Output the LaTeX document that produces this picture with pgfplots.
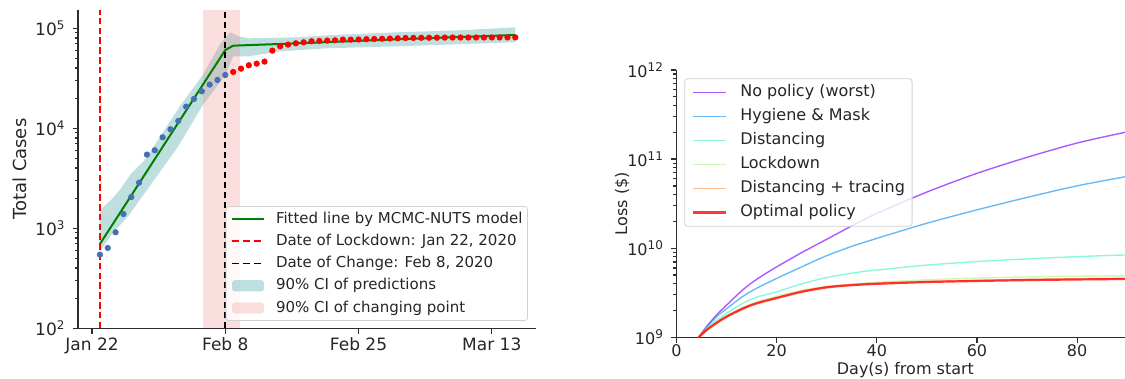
\documentclass[border=0pt]{standalone}
\usepackage{fontspec}
\setmainfont{DejaVu Sans}
\usepackage{pgfplots}
\pgfplotsset{compat=1.18}
\definecolor{txt}{RGB}{38,38,38}
\definecolor{spine}{RGB}{45,45,45}
\definecolor{dotblue}{RGB}{70,112,180}
\definecolor{fitgreen}{RGB}{0,128,0}
\definecolor{bandteal}{RGB}{0,128,128}
\definecolor{cpink}{RGB}{240,128,128}
\definecolor{lockred}{RGB}{255,0,0}
\definecolor{rbA}{rgb}{0.5,0,1}
\definecolor{rbB}{rgb}{0.1,0.588,0.951}
\definecolor{rbC}{rgb}{0.3,0.951,0.809}
\definecolor{rbD}{rgb}{0.7,0.951,0.588}
\definecolor{rbE}{rgb}{1,0.588,0.309}
\definecolor{rbF}{rgb}{1,0,0}
\newcommand{\tenp}[1]{10\textsuperscript{#1}}
\pgfplotsset{
  legGreen/.style={legend image code/.code={\draw[draw=fitgreen, line width=1pt] (0pt,0pt) -- (16pt,0pt);}},
  legRedDash/.style={legend image code/.code={\draw[draw=lockred, line width=0.9pt] (0pt,0pt) -- (3.7pt,0pt) (5.5pt,0pt) -- (9.2pt,0pt) (11pt,0pt) -- (14.7pt,0pt);}},
  legBlackDash/.style={legend image code/.code={\draw[draw=black, line width=0.9pt] (0pt,0pt) -- (3.7pt,0pt) (5.5pt,0pt) -- (9.2pt,0pt) (11pt,0pt) -- (14.7pt,0pt);}},
  legTeal/.style={legend image code/.code={\fill[fill=bandteal, fill opacity=0.25, draw=none] (0pt,-2.85pt) rectangle (16pt,2.85pt);}},
  legPink/.style={legend image code/.code={\fill[fill=cpink, fill opacity=0.25, draw=none] (0pt,-2.85pt) rectangle (16pt,2.85pt);}},
  spinestyle/.style={
    axis x line=bottom, axis y line=left,
    axis line style={-, spine, line width=0.6pt},
    tick align=outside, major tick length=2.7pt, minor tick length=1.5pt,
    tick style={spine, line width=0.6pt},
    minor xtick={},
  },
}
\begin{document}
\begin{tikzpicture}
\useasboundingbox (0,0) rectangle (562.5pt,189.5pt);
% ---------------- left panel ----------------
\begin{axis}[
  spinestyle,
  at={(38.95pt,25.35pt)}, anchor=south west,
  scale only axis, width=228.9pt, height=159.15pt,
  xmin=-1.81, xmax=56.6, ymode=log, ymin=100, ymax=152400,
  xtick={0,17,34,51}, xticklabels={Jan 22,Feb 8,Feb 25,Mar 13},
  ytick={100,1000,10000,100000}, yticklabels={\tenp{2},\tenp{3},\tenp{4},\tenp{5}},
  minor ytick={200,300,400,500,600,700,800,900,2000,3000,4000,5000,6000,7000,8000,9000,20000,30000,40000,50000,60000,70000,80000,90000},
  tick label style={font=\fontsize{8.5}{10}\selectfont, text=txt},
  xticklabel style={yshift=1.5pt},
  ylabel={Total Cases},
  ylabel style={at={(axis description cs:-0.127,0.5)}, anchor=center, font=\fontsize{9}{11}\selectfont, text=txt},
  axis on top,
  legend cell align=left,
  legend style={at={(1,0)}, anchor=south east, xshift=-3.85pt, yshift=3.65pt,
    font=\color{txt}\fontsize{7.5}{9}\selectfont,
    fill=white, fill opacity=0.8, text opacity=1, draw=black!18, rounded corners=1.5pt,
    inner xsep=2.5pt, inner ysep=2.55pt, row sep=3.6pt,
    nodes={inner sep=0pt, text height=5.8pt, text depth=1.7pt},
    /tikz/every odd column/.append style={column sep=5.5pt}},
]
\addplot[only marks, mark=*, mark size=1.35pt, color=dotblue, forget plot] coordinates {
(1,545) (2,636) (3,912) (4,1390) (5,2056) (6,2862) (7,5456) (8,6030) (9,8130)
(10,9770) (11,11840) (12,16480) (13,19650) (14,23440) (15,27350) (16,30430) (17,34130)};
\addplot[only marks, mark=*, mark size=1.35pt, color=red, forget plot] coordinates {
(18,36600) (19,39500) (20,42660) (21,44330) (22,46420) (23,59800) (24,66070) (25,68680)
(26,70800) (27,72440) (28,74130) (29,74700) (30,75330) (31,75860) (32,77030) (33,77030)
(34,77260) (35,77780) (36,78190) (37,78630) (38,78960) (39,79390) (40,79970) (41,80170)
(42,80300) (43,80420) (44,80570) (45,80710) (46,80810) (47,80860) (48,80900) (49,80920)
(50,80950) (51,80980) (52,81000) (53,81020) (54,81050)};
\addplot[fill=bandteal, fill opacity=0.25, draw=none, forget plot] coordinates {
(1,1514) (2.5,1950) (3.7,2512) (5,3548) (6.7,4786) (8.8,8511) (11.2,16600) (14.1,33900)
(16.4,70800) (17.6,91200) (18.7,83200) (20,79400) (26.5,81300) (30,85100) (39,91200)
(47,95500) (54,102300)
(54,72440) (39,66070) (30,63100) (24,58880) (20,52480) (18,52480) (17,33880) (14.1,16980)
(11,6607) (8.8,3802) (6.7,2239) (4.6,1318) (2.6,891) (1,589)} -- cycle;
\addplot[fill=cpink, fill opacity=0.25, draw=none, forget plot] coordinates {
(14.1,100) (18.9,100) (18.9,152400) (14.1,152400)} -- cycle;
\addplot[fitgreen, line width=1pt, forget plot] coordinates {
(1,697) (17,60700) (18,67000) (24,69700) (39,77600) (54,85700)};
\addplot[draw=lockred, line width=0.7pt, dash pattern=on 3.3pt off 1.6pt, forget plot] coordinates {(1,100) (1,152400)};
\addplot[draw=black, line width=0.9pt, dash pattern=on 3.3pt off 1.7pt, forget plot] coordinates {(17,100) (17,152400)};
\addlegendimage{legGreen}
\addlegendentry{Fitted line by MCMC-NUTS model}
\addlegendimage{legRedDash}
\addlegendentry{Date of Lockdown: Jan 22, 2020}
\addlegendimage{legBlackDash}
\addlegendentry{Date of Change: Feb 8, 2020}
\addlegendimage{legTeal}
\addlegendentry{90\% CI of predictions}
\addlegendimage{legPink}
\addlegendentry{90\% CI of changing point}
\end{axis}
% ---------------- right panel ----------------
\begin{axis}[
  spinestyle,
  at={(338.2pt,20.85pt)}, anchor=south west,
  scale only axis, width=224.3pt, height=133.65pt,
  xmin=0, xmax=89.55, ymode=log, ymin=1e9, ymax=1e12,
  xtick={0,20,40,60,80}, xticklabels={0,20,40,60,80},
  ytick={1e9,1e10,1e11,1e12}, yticklabels={\tenp{9},\tenp{10},\tenp{11},\tenp{12}},
  minor ytick={2e9,3e9,4e9,5e9,6e9,7e9,8e9,9e9,2e10,3e10,4e10,5e10,6e10,7e10,8e10,9e10,2e11,3e11,4e11,5e11,6e11,7e11,8e11,9e11},
  tick label style={font=\fontsize{8}{9.6}\selectfont, text=txt},
  xticklabel style={yshift=2.5pt},
  xlabel={Day(s) from start},
  xlabel style={at={(axis description cs:0.5105,-0.122)}, anchor=center, font=\fontsize{8}{9.6}\selectfont, text=txt},
  ylabel={Loss (\$)},
  ylabel style={at={(axis description cs:-0.1208,0.5)}, anchor=center, font=\fontsize{8}{9.6}\selectfont, text=txt},
  legend image code/.code={\draw[#1] (0pt,0pt) -- (16.6pt,0pt);},
  legend cell align=left,
  legend style={at={(0,1)}, anchor=north west, xshift=3.95pt, yshift=-4.15pt,
    font=\color{txt}\fontsize{8}{9.6}\selectfont,
    fill=white, fill opacity=0.8, text opacity=1, draw=black!18, rounded corners=1.5pt,
    inner xsep=3.6pt, inner ysep=2.9pt, row sep=4pt,
    nodes={inner sep=0pt, text height=6.2pt, text depth=1.8pt},
    /tikz/every odd column/.append style={column sep=6.5pt}},
]
\addplot[rbA, opacity=0.65, line width=0.7pt, smooth] coordinates {
(4.45,1.000e9) (6,1.318e9) (8,1.778e9) (10,2.291e9) (13.2,3.388e9) (16,4.467e9) (20,6.166e9)
(25,8.913e9) (30,1.259e10) (35,1.778e10) (40,2.455e10) (50,4.266e10) (60,6.918e10)
(70,1.047e11) (80,1.514e11) (89.6,2.000e11)};
\addlegendentry{No policy (worst)}
\addplot[rbB, opacity=0.65, line width=0.7pt, smooth] coordinates {
(4.45,1.000e9) (6,1.288e9) (8,1.698e9) (10,2.089e9) (13.2,2.858e9) (16,3.548e9) (20,4.571e9)
(25,6.166e9) (30,8.241e9) (35,1.047e10) (40,1.288e10) (50,1.905e10) (60,2.692e10)
(70,3.715e10) (80,5.012e10) (89.6,6.330e10)};
\addlegendentry{Hygiene \& Mask}
\addplot[rbC, opacity=0.65, line width=0.7pt, smooth] coordinates {
(4.45,1.000e9) (6,1.259e9) (8,1.549e9) (10,1.862e9) (13.2,2.399e9) (16,2.818e9) (20,3.236e9)
(25,3.981e9) (30,4.677e9) (35,5.248e9) (40,5.689e9) (50,6.457e9) (60,7.079e9)
(70,7.586e9) (80,8.035e9) (89.6,8.400e9)};
\addlegendentry{Distancing}
\addplot[rbD, opacity=0.65, line width=0.7pt, smooth] coordinates {
(4.45,1.000e9) (6,1.216e9) (8,1.479e9) (10,1.738e9) (13.2,2.163e9) (16,2.483e9) (20,2.884e9)
(25,3.350e9) (30,3.715e9) (35,3.936e9) (40,4.140e9) (50,4.416e9) (60,4.624e9)
(70,4.753e9) (80,4.842e9) (89.6,4.900e9)};
\addlegendentry{Lockdown}
\addplot[rbE, opacity=0.65, line width=0.7pt, smooth] coordinates {
(4.45,1.000e9) (6,1.220e9) (8,1.470e9) (10,1.730e9) (13.2,2.130e9) (16,2.450e9) (20,2.810e9)
(25,3.300e9) (30,3.700e9) (35,3.920e9) (40,4.060e9) (50,4.250e9) (60,4.370e9)
(70,4.470e9) (80,4.550e9) (89.6,4.600e9)};
\addlegendentry{Distancing + tracing}
\addplot[rbF, opacity=0.78, line width=1.1pt, smooth] coordinates {
(4.45,1.000e9) (6,1.202e9) (8,1.445e9) (10,1.698e9) (13.2,2.089e9) (16,2.399e9) (20,2.754e9)
(25,3.236e9) (30,3.631e9) (35,3.846e9) (40,3.981e9) (50,4.169e9) (60,4.285e9)
(70,4.385e9) (80,4.457e9) (89.6,4.510e9)};
\addlegendentry{Optimal policy}
\end{axis}
\end{tikzpicture}
\end{document}
